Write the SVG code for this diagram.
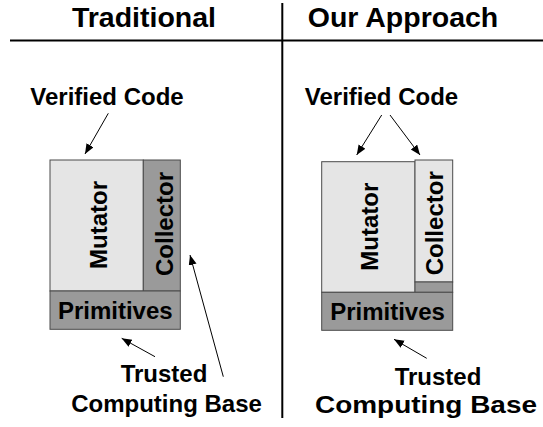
<svg xmlns="http://www.w3.org/2000/svg" width="543" height="427" viewBox="0 0 543 427">
  <style>
    .title { font-family: "Liberation Sans", Arial, sans-serif; font-weight: bold; font-size: 28.5px; fill: #000; text-anchor: middle; }
    .lbl { font-family: "Liberation Sans", Arial, sans-serif; font-weight: bold; font-size: 24px; fill: #000; text-anchor: middle; }
    .light { fill: #e5e5e5; stroke: #4a4a4a; stroke-width: 1; }
    .dark { fill: #9a9a9a; stroke: #4a4a4a; stroke-width: 1; }
    .rule { stroke: #000; stroke-width: 2; fill: none; }
    .arrow { stroke: #000; stroke-width: 1; fill: none; marker-end: url(#head); }
  </style>
  <defs>
    <marker id="head" markerUnits="userSpaceOnUse" markerWidth="12" markerHeight="10" refX="10" refY="4" orient="auto">
      <path d="M0,0 L10,4 L0,8 Z" fill="#000"/>
    </marker>
  </defs>
  <rect width="543" height="427" fill="#fff"/>

  <!-- column headings and dividing rules -->
  <g id="headings">
    <text class="title" x="144" y="27">Traditional</text>
    <text class="title" x="403" y="27">Our Approach</text>
    <line class="rule" x1="10" y1="40.5" x2="543" y2="40.5"/>
    <line class="rule" x1="282.3" y1="3" x2="282.3" y2="418"/>
  </g>

  <!-- traditional layout -->
  <g id="trad-verified"><text class="lbl" x="107" y="105">Verified Code</text></g>
  <g id="trad-mutator">
    <rect class="light" x="50" y="160" width="93.3" height="131"/>
    <text class="lbl" transform="translate(107,225) rotate(-90)">Mutator</text>
  </g>
  <g id="trad-collector">
    <rect class="dark" x="143.3" y="160" width="37" height="131"/>
    <text class="lbl" transform="translate(172.5,224) rotate(-90)">Collector</text>
  </g>
  <g id="trad-primitives">
    <rect class="dark" x="50" y="291" width="130.3" height="38.3"/>
    <text class="lbl" x="115.3" y="318.5">Primitives</text>
  </g>
  <g id="trad-tcb">
    <text class="lbl" x="164" y="382">Trusted</text>
    <text class="lbl" x="166.5" y="411.5">Computing Base</text>
  </g>

  <!-- our approach layout -->
  <g id="ours-verified"><text class="lbl" x="381.5" y="105">Verified Code</text></g>
  <g id="ours-mutator">
    <rect class="light" x="321.7" y="161.7" width="93.3" height="130.6"/>
    <text class="lbl" transform="translate(378,226.7) rotate(-90)">Mutator</text>
  </g>
  <g id="ours-collector">
    <rect class="light" x="415" y="160" width="37.7" height="122"/>
    <text class="lbl" transform="translate(443,223.3) rotate(-90)">Collector</text>
  </g>
  <g id="ours-primitives">
    <rect class="dark" x="415" y="282" width="37.7" height="10.3"/>
    <rect class="dark" x="321.7" y="292.3" width="131" height="38"/>
    <text class="lbl" x="387.5" y="320">Primitives</text>
  </g>
  <g id="ours-tcb">
    <text class="lbl" x="438" y="385">Trusted</text>
    <text class="lbl" x="426" y="413" textLength="222" lengthAdjust="spacingAndGlyphs">Computing Base</text>
  </g>

  <!-- connectors -->
  <g id="connectors">
    <line class="arrow" x1="108.3" y1="113.3" x2="85" y2="154"/>
    <line class="arrow" x1="155" y1="356.7" x2="121.7" y2="338.3"/>
    <line class="arrow" x1="223.3" y1="376.7" x2="190" y2="255"/>
    <line class="arrow" x1="381.7" y1="115" x2="356.7" y2="155"/>
    <line class="arrow" x1="390" y1="115" x2="420" y2="155"/>
    <line class="arrow" x1="426.7" y1="358.3" x2="394" y2="339.3"/>
  </g>
</svg>
